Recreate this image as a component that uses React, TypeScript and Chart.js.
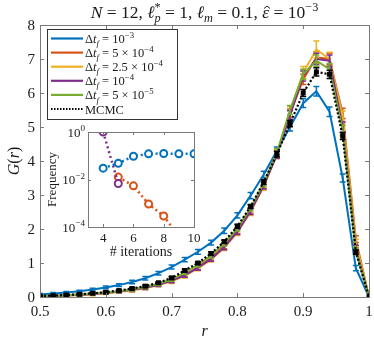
import React, { useEffect, useRef } from "react";
import { Chart, registerables } from "chart.js";
Chart.register(...registerables);

// ---------- main chart data ----------
const rGrid = [0.5, 0.52, 0.54, 0.56, 0.58, 0.6, 0.62, 0.64, 0.66, 0.68, 0.7, 0.72, 0.74, 0.76, 0.78, 0.8, 0.82, 0.84, 0.86, 0.88, 0.9, 0.92, 0.94, 0.96, 0.98, 1.0];
const gDt1e3 = [0.07, 0.1, 0.13, 0.17, 0.22, 0.28, 0.35, 0.44, 0.55, 0.7, 0.88, 1.1, 1.33, 1.6, 1.95, 2.4, 2.98, 3.6, 4.3, 5.0, 5.7, 6.05, 5.45, 3.5, 0.85, 0];
const gDt5e4 = [0.02, 0.03, 0.05, 0.07, 0.09, 0.12, 0.16, 0.21, 0.28, 0.37, 0.49, 0.65, 0.88, 1.15, 1.5, 1.95, 2.55, 3.3, 4.2, 5.4, 6.4, 7.05, 7.0, 5.4, 1.7, 0];
const gDt25e5 = [0.02, 0.03, 0.04, 0.06, 0.08, 0.11, 0.15, 0.2, 0.26, 0.35, 0.46, 0.62, 0.84, 1.1, 1.45, 1.9, 2.5, 3.25, 4.2, 5.45, 6.6, 7.28, 7.0, 5.3, 1.6, 0];
const gDt1e4 = [0.02, 0.03, 0.05, 0.06, 0.09, 0.12, 0.16, 0.21, 0.27, 0.36, 0.48, 0.64, 0.86, 1.12, 1.47, 1.92, 2.52, 3.28, 4.18, 5.35, 6.5, 7.0, 6.95, 5.0, 1.42, 0];
const gDt5e5 = [0.03, 0.04, 0.05, 0.07, 0.1, 0.13, 0.17, 0.23, 0.3, 0.39, 0.52, 0.72, 0.95, 1.22, 1.58, 2.02, 2.62, 3.35, 4.25, 5.5, 6.55, 6.95, 6.7, 4.9, 1.35, 0];
const gMCMC = [0.03, 0.04, 0.06, 0.08, 0.11, 0.14, 0.19, 0.25, 0.32, 0.42, 0.56, 0.78, 1.0, 1.28, 1.63, 2.08, 2.66, 3.38, 4.2, 5.1, 6.0, 6.62, 6.55, 4.73, 1.32, 0];

const eDt1e3 = [0.03, 0.03, 0.03, 0.03, 0.04, 0.04, 0.04, 0.05, 0.05, 0.05, 0.06, 0.06, 0.07, 0.07, 0.08, 0.08, 0.09, 0.1, 0.11, 0.12, 0.13, 0.14, 0.14, 0.12, 0.08, 0];
const eDt5e4 = [0.03, 0.03, 0.03, 0.03, 0.04, 0.04, 0.04, 0.05, 0.05, 0.05, 0.06, 0.06, 0.07, 0.07, 0.08, 0.08, 0.09, 0.1, 0.11, 0.13, 0.15, 0.17, 0.17, 0.15, 0.1, 0];
const eDt25e5 = [0.03, 0.03, 0.03, 0.03, 0.04, 0.04, 0.04, 0.05, 0.05, 0.05, 0.06, 0.06, 0.07, 0.07, 0.08, 0.09, 0.1, 0.11, 0.13, 0.15, 0.18, 0.25, 0.2, 0.17, 0.1, 0];
const eDt1e4 = [0.03, 0.03, 0.03, 0.03, 0.04, 0.04, 0.04, 0.05, 0.05, 0.05, 0.06, 0.06, 0.07, 0.07, 0.08, 0.08, 0.09, 0.1, 0.11, 0.13, 0.15, 0.17, 0.17, 0.15, 0.1, 0];
const eDt5e5 = [0.03, 0.03, 0.03, 0.03, 0.04, 0.04, 0.04, 0.05, 0.05, 0.05, 0.06, 0.06, 0.07, 0.07, 0.08, 0.08, 0.09, 0.1, 0.11, 0.13, 0.15, 0.17, 0.17, 0.15, 0.1, 0];
const eMCMC = [0.02, 0.02, 0.02, 0.02, 0.02, 0.03, 0.03, 0.03, 0.03, 0.03, 0.04, 0.04, 0.04, 0.05, 0.05, 0.06, 0.06, 0.07, 0.08, 0.09, 0.1, 0.12, 0.12, 0.1, 0.06, 0];

const xTicks = [0.5, 0.6, 0.7, 0.8, 0.9, 1];
const xTickLabels = ["0.5", "0.6", "0.7", "0.8", "0.9", "1"];
const yTicks = [0, 1, 2, 3, 4, 5, 6, 7, 8];
const yTickLabels = ["0", "1", "2", "3", "4", "5", "6", "7", "8"];

// ---------- inset data ----------
const itersBlue = [4, 5, 6, 7, 8, 9, 10];
const freqBlue = [0.03, 0.048, 0.095, 0.12, 0.125, 0.12, 0.12];
const itersOrange = [5, 6, 7, 8, 9];
const freqOrange = [0.0126, 0.0054, 0.00093, 0.00029, 0.00004];
const itersPurple = [4, 5];
const freqPurple = [1.0, 0.0068];
const insetXTicks = [4, 6, 8, 10];
const insetYTicks = [1e-4, 1e-2, 1];
const insetYExp = ["\u22124", "\u22122", "0"];

const C_BLUE = "#0072BD";
const C_ORANGE = "#D95319";
const C_YELLOW = "#EDB120";
const C_PURPLE = "#7E2F8E";
const C_GREEN = "#77AC30";
const FONT = "'Liberation Serif', 'DejaVu Serif', serif";
const AXIS = "#7a7a7a";
const TXT = "#1a1a1a";

type Seg = { t: string; it?: boolean; sup?: boolean; sub?: boolean; stack?: boolean; hat?: boolean };

function segFont(s: Seg, size: number) {
  const sz = s.sup || s.sub ? size * 0.7 : size;
  return `${s.it ? "italic " : ""}${sz}px ${FONT}`;
}
function richWidth(ctx: CanvasRenderingContext2D, segs: Seg[], size: number) {
  let x = 0, prevStart = 0, maxEnd = 0;
  for (const s of segs) {
    ctx.font = segFont(s, size);
    const w = ctx.measureText(s.t).width;
    const start = s.stack ? prevStart : x;
    prevStart = start;
    const end = start + w;
    x = s.stack ? Math.max(x, end) : end;
    maxEnd = Math.max(maxEnd, x);
  }
  return maxEnd;
}
function drawRich(ctx: CanvasRenderingContext2D, segs: Seg[], x0: number, y: number, size: number, align: "left" | "center" | "right") {
  const total = richWidth(ctx, segs, size);
  let x = align === "left" ? x0 : align === "center" ? x0 - total / 2 : x0 - total;
  let prevStart = x;
  ctx.textAlign = "left";
  ctx.textBaseline = "alphabetic";
  for (const s of segs) {
    ctx.font = segFont(s, size);
    const w = ctx.measureText(s.t).width;
    const start = s.stack ? prevStart : x;
    const dy = s.sup ? -size * 0.4 : s.sub ? size * 0.25 : 0;
    ctx.fillText(s.t, start, y + dy);
    if (s.hat) {
      const cx = start + w / 2 + size * 0.08;
      const ty = y - size * 0.68;
      const hw = size * 0.17;
      ctx.save();
      ctx.strokeStyle = ctx.fillStyle as string;
      ctx.lineWidth = 1;
      ctx.beginPath();
      ctx.moveTo(cx - hw, ty + hw * 0.8);
      ctx.lineTo(cx, ty);
      ctx.lineTo(cx + hw, ty + hw * 0.8);
      ctx.stroke();
      ctx.restore();
    }
    prevStart = start;
    const end = start + w;
    x = s.stack ? Math.max(x, end) : end;
  }
}

const dtLabel = (mant: string | null, exp: string): Seg[] => {
  const segs: Seg[] = [{ t: "\u0394" }, { t: "t", it: true }, { t: "f", it: true, sub: true }, { t: " = " }];
  if (mant) segs.push({ t: mant + " \u00D7 " });
  segs.push({ t: "10" }, { t: "\u2212" + exp, sup: true });
  return segs;
};

const legendItems: { color: string; dotted: boolean; segs: Seg[] }[] = [
  { color: C_BLUE, dotted: false, segs: dtLabel(null, "3") },
  { color: C_ORANGE, dotted: false, segs: dtLabel("5", "4") },
  { color: C_YELLOW, dotted: false, segs: dtLabel("2.5", "4") },
  { color: C_PURPLE, dotted: false, segs: dtLabel(null, "4") },
  { color: C_GREEN, dotted: false, segs: dtLabel("5", "5") },
  { color: "#000", dotted: true, segs: [{ t: "MCMC" }] },
];

const titleSegs: Seg[] = [
  { t: "N", it: true }, { t: " = 12, " },
  { t: "\u2113", it: true }, { t: "*", sup: true }, { t: "p", it: true, sub: true, stack: true }, { t: " = 1, " },
  { t: "\u2113", it: true }, { t: "m", it: true, sub: true }, { t: " = 0.1, " },
  { t: "\u03B5", it: true, hat: true }, { t: " = 10" }, { t: "\u22123", sup: true },
];

function drawFrame(ctx: CanvasRenderingContext2D, a: { left: number; right: number; top: number; bottom: number }) {
  ctx.save();
  ctx.strokeStyle = AXIS;
  ctx.lineWidth = 1;
  ctx.strokeRect(Math.round(a.left) + 0.5, Math.round(a.top) + 0.5, Math.round(a.right - a.left), Math.round(a.bottom - a.top));
  ctx.restore();
}

const errPlugin = {
  id: "errbars",
  afterDatasetDraw(chart: any, args: any) {
    const ds = chart.data.datasets[args.index];
    if (!ds.errs) return;
    const ctx = chart.ctx;
    const ys = chart.scales.y;
    const a = chart.chartArea;
    ctx.save();
    ctx.beginPath();
    ctx.rect(a.left, a.top - 20, a.right - a.left, a.bottom - a.top + 20);
    ctx.clip();
    ctx.strokeStyle = ds.borderColor;
    ctx.lineWidth = 1.5;
    args.meta.data.forEach((pt: any, i: number) => {
      const v = ds.data[i].y;
      const e = ds.errs[i];
      if (!e) return;
      const y1 = ys.getPixelForValue(v - e);
      const y2 = ys.getPixelForValue(v + e);
      const x = pt.x;
      ctx.beginPath();
      ctx.moveTo(x, y1); ctx.lineTo(x, y2);
      ctx.moveTo(x - 3, y1); ctx.lineTo(x + 3, y1);
      ctx.moveTo(x - 3, y2); ctx.lineTo(x + 3, y2);
      ctx.stroke();
    });
    ctx.restore();
  },
};

const mainDeco = {
  id: "mainDeco",
  afterDraw(chart: any) {
    const ctx: CanvasRenderingContext2D = chart.ctx;
    const a = chart.chartArea;
    const xs = chart.scales.x, ys = chart.scales.y;
    drawFrame(ctx, a);
    ctx.save();
    ctx.strokeStyle = AXIS;
    ctx.lineWidth = 1;
    ctx.beginPath();
    xTicks.forEach((t) => {
      const x = Math.round(xs.getPixelForValue(t)) + 0.5;
      ctx.moveTo(x, a.bottom); ctx.lineTo(x, a.bottom - 4);
      ctx.moveTo(x, a.top); ctx.lineTo(x, a.top + 4);
    });
    yTicks.forEach((t) => {
      const y = Math.round(ys.getPixelForValue(t)) + 0.5;
      ctx.moveTo(a.left, y); ctx.lineTo(a.left + 4, y);
      ctx.moveTo(a.right, y); ctx.lineTo(a.right - 4, y);
    });
    ctx.stroke();
    ctx.fillStyle = TXT;
    ctx.font = `15px ${FONT}`;
    ctx.textAlign = "center";
    ctx.textBaseline = "alphabetic";
    xTicks.forEach((t, i) => ctx.fillText(xTickLabels[i], xs.getPixelForValue(t), 316));
    ctx.textAlign = "right";
    ctx.textBaseline = "middle";
    yTicks.forEach((t, i) => ctx.fillText(yTickLabels[i], 35, ys.getPixelForValue(t) + 1));
    // axis labels
    drawRich(ctx, [{ t: "r", it: true }], (a.left + a.right) / 2, 336, 16, "center");
    ctx.save();
    ctx.translate(19, (a.top + a.bottom) / 2);
    ctx.rotate(-Math.PI / 2);
    drawRich(ctx, [{ t: "G", it: true }, { t: "(" }, { t: "r", it: true }, { t: ")" }], 0, 0, 16, "center");
    ctx.restore();
    // title
    drawRich(ctx, titleSegs, (a.left + a.right) / 2, 18, 17.5, "center");
    // legend
    const lx = 47, ly = 29, lw = 130, lh = 90;
    ctx.fillStyle = "#fff";
    ctx.fillRect(lx, ly, lw, lh);
    ctx.strokeStyle = "#333";
    ctx.lineWidth = 1;
    ctx.strokeRect(lx + 0.5, ly + 0.5, lw, lh);
    legendItems.forEach((it, i) => {
      const y = 38.5 + i * 14.1;
      ctx.strokeStyle = it.color;
      ctx.lineWidth = it.dotted ? 2 : 2.2;
      ctx.setLineDash(it.dotted ? [1.5, 1.5] : []);
      ctx.beginPath();
      ctx.moveTo(51, y); ctx.lineTo(83, y);
      ctx.stroke();
      ctx.setLineDash([]);
      ctx.fillStyle = TXT;
      drawRich(ctx, it.segs, 85, y + 4.5, 12.5, "left");
    });
    ctx.restore();
  },
};

const insetDeco = {
  id: "insetDeco",
  afterDraw(chart: any) {
    const ctx: CanvasRenderingContext2D = chart.ctx;
    const a = chart.chartArea;
    const xs = chart.scales.x, ys = chart.scales.y;
    drawFrame(ctx, a);
    ctx.save();
    ctx.strokeStyle = AXIS;
    ctx.lineWidth = 1;
    ctx.beginPath();
    insetXTicks.forEach((t) => {
      const x = Math.round(xs.getPixelForValue(t)) + 0.5;
      ctx.moveTo(x, a.bottom); ctx.lineTo(x, a.bottom - 3);
      ctx.moveTo(x, a.top); ctx.lineTo(x, a.top + 3);
    });
    insetYTicks.forEach((t) => {
      const y = Math.round(ys.getPixelForValue(t)) + 0.5;
      ctx.moveTo(a.left, y); ctx.lineTo(a.left + 3, y);
      ctx.moveTo(a.right, y); ctx.lineTo(a.right - 3, y);
    });
    ctx.stroke();
    ctx.fillStyle = TXT;
    ctx.font = `13px ${FONT}`;
    ctx.textAlign = "center";
    ctx.textBaseline = "alphabetic";
    insetXTicks.forEach((t) => ctx.fillText(String(t), xs.getPixelForValue(t), a.bottom + 15));
    insetYTicks.forEach((t, i) => {
      drawRich(ctx, [{ t: "10" }, { t: insetYExp[i], sup: true }], a.left - 3, ys.getPixelForValue(t) + 4.5, 13, "right");
    });
    drawRich(ctx, [{ t: "# iterations" }], (a.left + a.right) / 2, a.bottom + 29, 14, "center");
    ctx.save();
    ctx.translate(16, (a.top + a.bottom) / 2);
    ctx.rotate(-Math.PI / 2);
    drawRich(ctx, [{ t: "Frequency" }], 0, 0, 13, "center");
    ctx.restore();
    ctx.restore();
  },
};

const mkLine = (label: string, ys: number[], errs: number[], color: string) => ({
  label,
  data: rGrid.map((r, i) => ({ x: r, y: ys[i] })),
  errs,
  borderColor: color,
  backgroundColor: color,
  borderWidth: 2,
  pointRadius: 0,
  tension: 0,
});

export default function App() {
  const mainRef = useRef<HTMLCanvasElement>(null);
  const insetRef = useRef<HTMLCanvasElement>(null);
  useEffect(() => {
    const mcmc: any = mkLine("MCMC", gMCMC, eMCMC, "#000");
    mcmc.borderDash = [2, 2];
    mcmc.borderWidth = 2.2;
    mcmc.pointRadius = 3.5;
    mcmc.pointStyle = "rect";
    mcmc.pointBorderWidth = 0;
    const main = new Chart(mainRef.current!, {
      type: "line",
      data: {
        datasets: [
          mcmc,
          mkLine("dt=5e-5", gDt5e5, eDt5e5, C_GREEN),
          mkLine("dt=1e-4", gDt1e4, eDt1e4, C_PURPLE),
          mkLine("dt=2.5e-4", gDt25e5, eDt25e5, C_YELLOW),
          mkLine("dt=5e-4", gDt5e4, eDt5e4, C_ORANGE),
          mkLine("dt=1e-3", gDt1e3, eDt1e3, C_BLUE),
        ] as any,
      },
      options: {
        animation: false,
        responsive: false,
        layout: { padding: { left: 40, right: 5, top: 25, bottom: 47 } },
        scales: {
          x: { type: "linear", min: 0.5, max: 1, display: false },
          y: { type: "linear", min: 0, max: 8, display: false },
        },
        plugins: { legend: { display: false }, tooltip: { enabled: false } },
      },
      plugins: [errPlugin, mainDeco],
    });
    const insetDs = (xsArr: number[], ysArr: number[], color: string) => ({
      data: xsArr.map((x, i) => ({ x, y: ysArr[i] })),
      borderColor: color,
      borderWidth: 2.5,
      borderDash: [2, 3],
      pointRadius: 3.5,
      pointBorderWidth: 2,
      pointBackgroundColor: "#fff",
      pointBorderColor: color,
      tension: 0,
    });
    const inset = new Chart(insetRef.current!, {
      type: "line",
      data: {
        datasets: [
          insetDs(itersPurple, freqPurple, C_PURPLE),
          insetDs(itersOrange, freqOrange, C_ORANGE),
          insetDs(itersBlue, freqBlue, C_BLUE),
        ] as any,
      },
      options: {
        animation: false,
        responsive: false,
        layout: { padding: { left: 48, right: 4, top: 14, bottom: 31 } },
        scales: {
          x: { type: "linear", min: 3, max: 10, display: false },
          y: { type: "logarithmic", min: 1e-4, max: 1, display: false },
        },
        plugins: { legend: { display: false }, tooltip: { enabled: false } },
      },
      plugins: [insetDeco],
    });
    return () => {
      main.destroy();
      inset.destroy();
    };
  }, []);
  return (
    <div style={{ position: "fixed", left: 0, top: 0, width: 374, height: 344, background: "#fff" }}>
      <canvas ref={mainRef} width={374} height={344} style={{ position: "absolute", left: 0, top: 0 }} />
      <canvas ref={insetRef} width={160} height={140} style={{ position: "absolute", left: 40, top: 118 }} />
    </div>
  );
}
